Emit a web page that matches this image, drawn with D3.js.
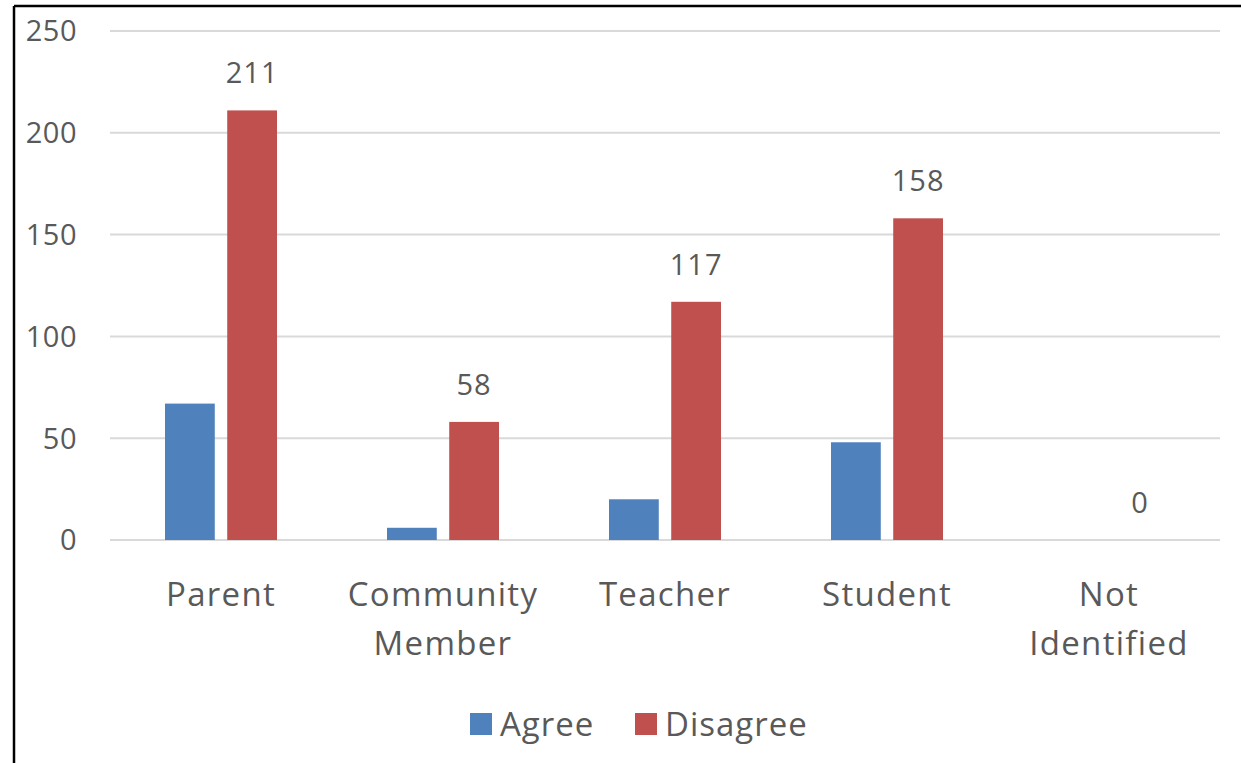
<!DOCTYPE html>
<html>
<head>
<meta charset="utf-8">
<script src="https://cdn.jsdelivr.net/npm/d3@7"></script>
<style>
    body { margin: 0; background: #fff; }
    text { font-family: "Open Sans", sans-serif; fill: #595959; }
</style>
</head>
<body>
<div id="chart"></div>
<script>
const categories = ["Parent", "Community Member", "Teacher", "Student", "Not Identified"];
const categoryLines = [["Parent"], ["Community", "Member"], ["Teacher"], ["Student"], ["Not", "Identified"]];
const seriesNames = ["Agree", "Disagree"];
const agree = [67, 6, 20, 48, 0];
const disagree = [211, 58, 117, 158, 0];
const yTicks = [0, 50, 100, 150, 200, 250];
const colors = ["#4f81bd", "#c0504d"];

const width = 1241, height = 763;
const margin = {top: 31, right: 21, bottom: 223, left: 110};

const svg = d3.select("#chart")
    .append("svg")
    .attr("width", width)
    .attr("height", height);

// frame lines (top and left only)
svg.append("line").attr("x1", 14).attr("x2", width).attr("y1", 6).attr("y2", 6)
    .attr("stroke", "#000").attr("stroke-width", 2.5);
svg.append("line").attr("x1", 14).attr("x2", 14).attr("y1", 6).attr("y2", height)
    .attr("stroke", "#000").attr("stroke-width", 2.5);

const x = d3.scaleBand()
    .domain(categories)
    .range([margin.left, width - margin.right]);

const xInner = d3.scaleBand()
    .domain(seriesNames)
    .range([55, x.bandwidth() - 55])
    .paddingInner(0.2);

const y = d3.scaleLinear()
    .domain([0, 250])
    .range([height - margin.bottom, margin.top]);

// gridlines
svg.append("g")
    .selectAll("line")
    .data(yTicks)
    .join("line")
    .attr("x1", margin.left)
    .attr("x2", width - margin.right)
    .attr("y1", d => y(d))
    .attr("y2", d => y(d))
    .attr("stroke", "#d9d9d9")
    .attr("stroke-width", 2);

// y tick labels
svg.append("g")
    .selectAll("text")
    .data(yTicks)
    .join("text")
    .attr("x", 77)
    .attr("y", d => y(d))
    .attr("dy", "0.36em")
    .attr("text-anchor", "end")
    .style("font-size", "29px")
    .style("letter-spacing", "0.5px")
    .text(d => d);

const rows = categories.map((c, i) => ({cat: c, values: [agree[i], disagree[i]]}));

const groups = svg.append("g")
    .selectAll("g")
    .data(rows)
    .join("g")
    .attr("transform", d => `translate(${x(d.cat)},0)`);

groups.selectAll("rect")
    .data(d => d.values.map((v, j) => ({key: seriesNames[j], value: v, color: colors[j]})))
    .join("rect")
    .attr("x", d => xInner(d.key))
    .attr("width", xInner.bandwidth())
    .attr("y", d => y(d.value))
    .attr("height", d => y(0) - y(d.value))
    .attr("fill", d => d.color);

// data labels on Disagree
groups.append("text")
    .attr("x", xInner("Disagree") + xInner.bandwidth() / 2)
    .attr("y", d => y(d.values[1]) - 27)
    .attr("text-anchor", "middle")
    .style("font-size", "29px")
    .style("letter-spacing", "1px")
    .text(d => d.values[1]);

// category labels
const catLabels = svg.append("g")
    .selectAll("text")
    .data(categories)
    .join("text")
    .attr("x", d => x(d) + x.bandwidth() / 2)
    .attr("y", 606)
    .attr("text-anchor", "middle")
    .style("font-size", "33px")
    .style("letter-spacing", "1.3px");

catLabels.selectAll("tspan")
    .data((d, i) => categoryLines[i])
    .join("tspan")
    .attr("x", function() { return this.parentNode.getAttribute("x"); })
    .attr("dy", (d, i) => i === 0 ? 0 : 49)
    .text(d => d);

// legend
const legend = svg.append("g");
const legendX = [470, 635];
seriesNames.forEach((name, i) => {
    legend.append("rect")
        .attr("x", legendX[i])
        .attr("y", 713)
        .attr("width", 22)
        .attr("height", 22)
        .attr("fill", colors[i]);
    legend.append("text")
        .attr("x", legendX[i] + 30)
        .attr("y", 736)
        .style("font-size", "33px")
        .style("letter-spacing", "1px")
        .text(name);
});
</script>
</body>
</html>
